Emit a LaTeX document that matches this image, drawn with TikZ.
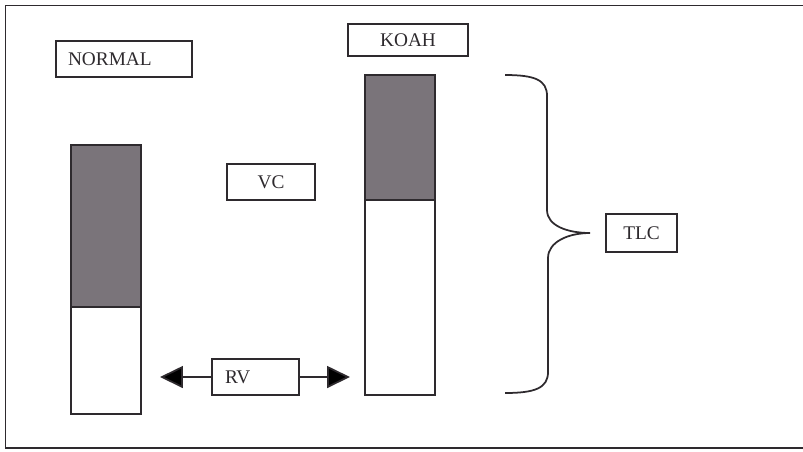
\documentclass[tikz,border=0pt]{standalone}
\usepackage{fontspec}
\setmainfont{Liberation Serif}
\usetikzlibrary{arrows.meta,positioning}
\definecolor{lungfill}{HTML}{7A747A}
\definecolor{inkline}{HTML}{2E2A2E}

\begin{document}
\begin{tikzpicture}[x=0.02cm,y=-0.02cm,
  lbl/.style={draw=inkline,line width=0.9pt,inner sep=0pt,font=\fontsize{11}{13}\selectfont,text=inkline},
  bar/.style={draw=inkline,line width=1pt,minimum width=1.4cm,inner sep=0pt,outer sep=0pt},
  vol/.style={inkline,line width=1pt,-{Triangle[length=0.46cm,width=0.44cm,fill=black]}},
]
  \useasboundingbox (0,0) rectangle (803,451);
  \draw[inkline,line width=1pt] (5.5,5.5) rectangle (806,448);

  % labels
  \node[lbl,minimum height=0.72cm,text width=2.24cm,inner xsep=0.24cm,align=left] (normal) at (124,59) {NORMAL};
  \node[lbl,minimum width=2.4cm,minimum height=0.64cm] (koah) at (408,40) {KOAH};
  \node[lbl,minimum width=1.76cm,minimum height=0.72cm] (vc) at (271,182) {VC};
  \node[lbl,minimum height=0.72cm,text width=1.22cm,inner xsep=0.26cm,align=left] (rv) at (255.5,377) {RV};
  \node[lbl,minimum width=1.42cm,minimum height=0.76cm] (tlc) at (641.5,233) {TLC};

  % bars
  \node[bar,fill=lungfill,minimum height=3.24cm] (nvc) at (106,226) {};
  \node[bar,fill=white,minimum height=2.14cm,below=0pt of nvc] (nrv) {};
  \node[bar,fill=lungfill,minimum height=2.5cm] (kvc) at (400,137.5) {};
  \node[bar,fill=white,minimum height=3.9cm,below=0pt of kvc] (krv) {};

  % RV arrows
  \coordinate (rvleft) at (160,377);
  \coordinate (rvright) at (350,377);
  \draw[vol] (rv.west) -- (rvleft);
  \draw[vol] (rv.east) -- (rvright);

  % TLC brace
  \coordinate (bracetop) at (505,75);
  \coordinate (bracetip) at (590,233);
  \coordinate (bracebot) at (505,393);
  \draw[inkline,line width=1pt] (bracetop) .. controls (535,75) and (547,80) .. (547,96)
    -- (547,210) .. controls (547,226) and (568,233) .. (bracetip)
    .. controls (568,233) and (548,242) .. (548,258)
    -- (548,372) .. controls (548,388) and (535,393) .. (bracebot);
\end{tikzpicture}
\end{document}
